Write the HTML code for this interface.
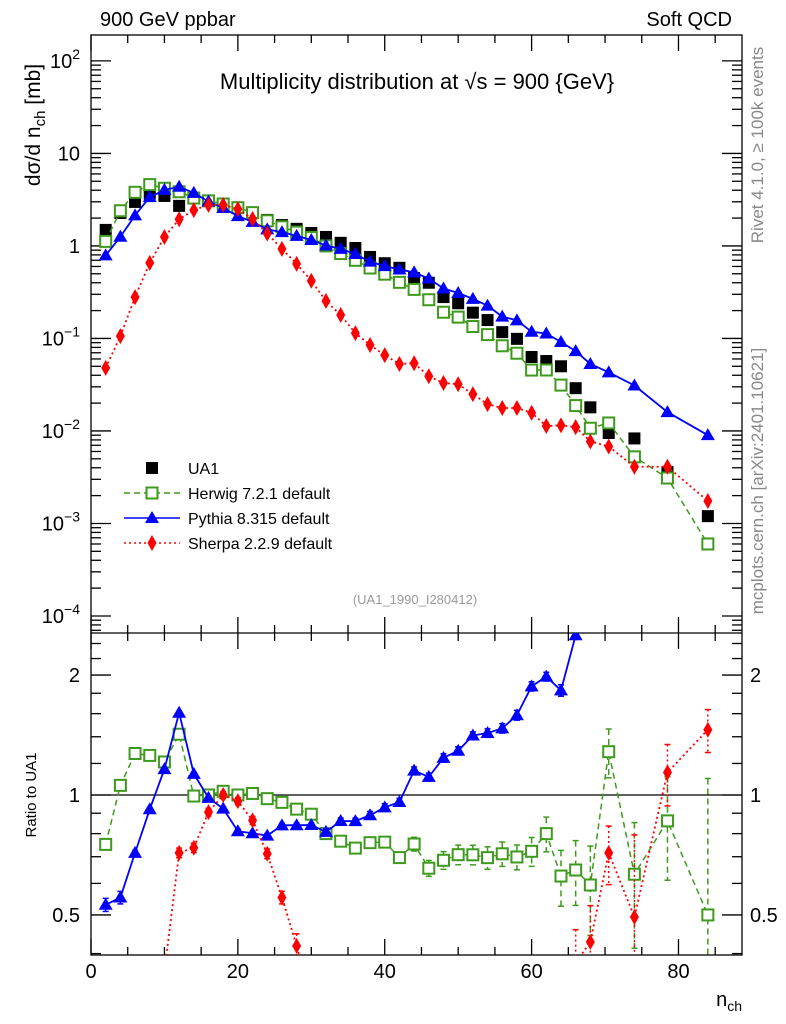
<!DOCTYPE html>
<html><head><meta charset="utf-8"><style>
html,body{margin:0;padding:0;background:#fff;overflow:hidden}
svg{display:block}
svg text{font-family:"Liberation Sans",sans-serif}
</style></head><body>
<svg id="c" width="786" height="1024" xmlns="http://www.w3.org/2000/svg"></svg>
<script>
const nch=[2,4,6,8,10,12,14,16,18,20,22,24,26,28,30,32,34,36,38,40,42,44,46,48,50,52,54,56,58,60,62,64,66,68,70.5,74,78.5,84];
const ua1=[1.49,2.27,2.99,3.66,3.47,2.71,3.31,3.07,2.78,2.59,2.27,1.91,1.68,1.53,1.38,1.25,1.08,0.95,0.76,0.65,0.58,0.45,0.40,0.28,0.24,0.19,0.158,0.117,0.099,0.063,0.057,0.050,0.029,0.018,0.0095,0.0083,0.0036,0.0012];
const herwig=[1.12,2.40,3.80,4.60,4.20,3.85,3.29,3.07,2.84,2.59,2.29,1.87,1.61,1.41,1.235,1.0,0.827,0.699,0.577,0.495,0.404,0.339,0.262,0.192,0.170,0.1345,0.110,0.0833,0.0692,0.0455,0.0456,0.0313,0.0188,0.0107,0.0122,0.00525,0.0031,0.0006];
const pythia=[0.79,1.255,2.14,3.37,4.03,4.36,3.74,3.02,2.57,2.10,1.82,1.51,1.41,1.285,1.16,1.01,0.929,0.817,0.676,0.605,0.557,0.518,0.444,0.347,0.310,0.268,0.226,0.172,0.157,0.118,0.113,0.0915,0.073,0.053,0.043,0.031,0.016,0.009];
const sherpa=[0.048,0.106,0.28,0.655,1.25,1.94,2.44,2.78,2.78,2.50,1.96,1.36,0.929,0.64,0.42,0.254,0.179,0.114,0.085,0.066,0.053,0.054,0.039,0.033,0.032,0.025,0.0195,0.0177,0.0177,0.0157,0.0113,0.0115,0.011,0.0077,0.0068,0.0041,0.0041,0.00175];
const herwigErr=[0.01,0.01,0.01,0.01,0.01,0.01,0.01,0.01,0.01,0.01,0.01,0.01,0.01,0.01,0.01,0.015,0.015,0.015,0.02,0.02,0.02,0.03,0.03,0.035,0.04,0.04,0.045,0.05,0.05,0.06,0.08,0.1,0.12,0.15,0.18,0.22,0.25,0.6];
const pythiaErr=[0.02,0.02,0.01,0.01,0.01,0.01,0.01,0.01,0.01,0.01,0.01,0.01,0.01,0.01,0.01,0.015,0.015,0.015,0.02,0.02,0.02,0.025,0.025,0.03,0.03,0.03,0.035,0.04,0.045,0.05,0.05,0.06,0.06,0.07,0.08,0.1,0.12,0.15];
const sherpaErr=[0.05,0.05,0.03,0.02,0.02,0.02,0.02,0.02,0.02,0.02,0.02,0.02,0.02,0.03,0.03,0.03,0.03,0.03,0.03,0.03,0.03,0.04,0.04,0.04,0.04,0.05,0.05,0.05,0.05,0.06,0.07,0.07,0.08,0.1,0.12,0.3,0.2,0.18];
const mainTicks=[2,1,0,-1,-2,-3,-4];
const ratioTicks=[0.5,1,2];
const xTicks=[0,20,40,60,80];

const NS="http://www.w3.org/2000/svg";
const svg=document.getElementById('c');
const L=91,R=742,T=35,MB=633,RB=955;
const XMAX=88.65;
const X=v=>L+(R-L)*v/XMAX;
const YTOP=2.28,YBOT=-4.184;
const Ym=v=>T+(MB-T)*(YTOP-Math.log10(v))/(YTOP-YBOT);
const RTOP=Math.log2(2.55),RBOT=Math.log2(0.3967);
const Yr=v=>{const c=Math.min(3,Math.max(0.3,v));return MB+(RB-MB)*(RTOP-Math.log2(c))/(RTOP-RBOT);};
function el(tag,at,parent){const e=document.createElementNS(NS,tag);for(const k in at)e.setAttribute(k,at[k]);(parent||svg).appendChild(e);return e;}
function txt(s,x,y,size,anchor,parent,fill){const t=el('text',{x:x,y:y,'font-size':size,'text-anchor':anchor||'start',fill:fill||'#000'},parent);t.textContent=s;return t;}

const defs=el('defs',{});
const cp1=el('clipPath',{id:'cm'},defs);el('rect',{x:L,y:T,width:R-L,height:MB-T},cp1);
const cp2=el('clipPath',{id:'cr'},defs);el('rect',{x:L,y:MB,width:R-L,height:RB-MB},cp2);

let t;
t=txt('900 GeV ppbar',100,26,20,'start');
t=txt('Soft QCD',732,26,20,'end');
t=txt('Multiplicity distribution at √s = 900 {GeV}',417,89,22,'middle');
t=txt('(UA1_1990_I280412)',415,604,13,'middle',null,'#999');
t=el('text',{x:0,y:0,'font-size':17,fill:'#888','text-anchor':'middle',transform:'translate(763,145) rotate(-90)'});t.textContent='Rivet 4.1.0, ≥ 100k events';

t=el('text',{x:0,y:0,'font-size':17,fill:'#888','text-anchor':'middle',transform:'translate(763,481) rotate(-90)'});t.textContent='mcplots.cern.ch [arXiv:2401.10621]';

t=el('text',{x:0,y:0,'font-size':21,'text-anchor':'middle',transform:'translate(40,125) rotate(-90)'});
t.innerHTML='dσ/d n<tspan font-size="15" dy="5">ch</tspan><tspan dy="-5"> [mb]</tspan>';

t=el('text',{x:0,y:0,'font-size':15,'text-anchor':'middle',transform:'translate(36,795) rotate(-90)'});t.textContent='Ratio to UA1';

t=el('text',{x:742,y:1006,'font-size':20,'text-anchor':'end'});t.innerHTML='n<tspan font-size="14" dy="5">ch</tspan>';


const ax=el('g',{stroke:'#000','stroke-width':1.3,fill:'none'});

el('rect',{x:L,y:T,width:R-L,height:RB-T},ax);
el('line',{x1:L,y1:MB,x2:R,y2:MB},ax);
for(let v=0;v<=XMAX;v+=5){const maj=v%20===0;const len=maj?16:8;const x=X(v);
 [T,MB].forEach(y0=>{el('line',{x1:x,y1:y0,x2:x,y2:y0+len},ax);});
 [MB,RB].forEach(y0=>{el('line',{x1:x,y1:y0,x2:x,y2:y0-len},ax);});}
xTicks.forEach(v=>{const tt=txt(String(v),X(v),978,20,'middle');});
for(let d=-5;d<=2;d++){for(let m=1;m<=9;m++){const v=m*Math.pow(10,d);const lv=Math.log10(v);if(lv>YTOP||lv<YBOT)continue;const y=Ym(v);const len=m===1?20:10;
 el('line',{x1:L,y1:y,x2:L+len,y2:y},ax);el('line',{x1:R,y1:y,x2:R-len,y2:y},ax);}}
mainTicks.forEach(d=>{const y=Ym(Math.pow(10,d))+7;let tt;
 if(d===1)tt=txt('10',80,y,20,'end');else if(d===0)tt=txt('1',80,y,20,'end');
 else{tt=el('text',{x:80,y:y,'font-size':20,'text-anchor':'end'});tt.innerHTML='10<tspan font-size="14" dy="-9">'+(d<0?'−'+(-d):d)+'</tspan>';}
 });
const rmin=[0.4,0.5,0.6,0.7,0.8,0.9,1,1.2,1.4,1.6,1.8,2,2.2,2.4];
rmin.forEach(v=>{const y=Yr(v);const maj=ratioTicks.includes(v);const len=maj?20:10;
 el('line',{x1:L,y1:y,x2:L+len,y2:y},ax);el('line',{x1:R,y1:y,x2:R-len,y2:y},ax);});
ratioTicks.forEach(v=>{const y=Yr(v)+7;let a=txt(String(v),80,y,20,'end');
 let b=txt(String(v),750,y,20,'start');});
el('line',{x1:L,y1:Yr(1),x2:R,y2:Yr(1),stroke:'#000','stroke-width':1.2});

function marker(kind,x,y,g,color){
 if(kind==='sq')return el('rect',{x:x-6,y:y-6,width:12,height:12,fill:'#000'},g);
 if(kind==='osq')return el('rect',{x:x-5.5,y:y-5.5,width:11,height:11,fill:'#fff',stroke:color,'stroke-width':2},g);
 if(kind==='tri')return el('polygon',{points:`${x},${y-7} ${x-7},${y+5} ${x+7},${y+5}`,fill:color},g);
 return el('polygon',{points:`${x},${y-8} ${x-4.5},${y} ${x},${y+8} ${x+4.5},${y}`,fill:color},g);}

const series=[
 {name:'herwig',vals:herwig,err:herwigErr,color:'#3d9a1c',dash:'6,4',kind:'osq',w:1.5},
 {name:'pythia',vals:pythia,err:pythiaErr,color:'#0000ff',dash:'',kind:'tri',w:1.8},
 {name:'sherpa',vals:sherpa,err:sherpaErr,color:'#ff0000',dash:'2,3',kind:'dia',w:1.8}];

const gm=el('g',{'clip-path':'url(#cm)'});
const gu=el('g',{},gm);
series.forEach(s=>{const g=el('g',{},gm);
 const pts=nch.map((n,i)=>X(n)+','+Ym(s.vals[i])).join(' ');
 el('polyline',{points:pts,fill:'none',stroke:s.color,'stroke-width':s.w,'stroke-dasharray':s.dash},g);
 s.gm=g;});
nch.forEach((n,i)=>{const m=marker('sq',X(n),Ym(ua1[i]),gu);});
series.forEach(s=>{nch.forEach((n,i)=>{const m=marker(s.kind,X(n),Ym(s.vals[i]),s.gm,s.color);});});

const gr=el('g',{'clip-path':'url(#cr)'});
series.forEach(s=>{const g=el('g',{},gr);
 const r=nch.map((n,i)=>s.vals[i]/ua1[i]);
 el('polyline',{points:nch.map((n,i)=>X(n)+','+Yr(r[i])).join(' '),fill:'none',stroke:s.color,'stroke-width':s.w,'stroke-dasharray':s.dash},g);
 nch.forEach((n,i)=>{const x=X(n);const e=s.err[i];
  if(r[i]<0.3||r[i]>3)return;
  el('line',{x1:x,y1:Yr(r[i]+e),x2:x,y2:Yr(Math.max(r[i]-e,0.01)),stroke:s.color,'stroke-width':1.5,'stroke-dasharray':s.dash},g);
  el('line',{x1:x-3,y1:Yr(r[i]+e),x2:x+3,y2:Yr(r[i]+e),stroke:s.color,'stroke-width':1.5},g);
  el('line',{x1:x-3,y1:Yr(Math.max(r[i]-e,0.01)),x2:x+3,y2:Yr(Math.max(r[i]-e,0.01)),stroke:s.color,'stroke-width':1.5},g);
  const m=marker(s.kind,x,Yr(r[i]),g,s.color);});});

const lg=el('g',{});
const labels=[['UA1','sq','#000',''],['Herwig 7.2.1 default','osq','#3d9a1c','6,4'],['Pythia 8.315 default','tri','#0000ff',''],['Sherpa 2.2.9 default','dia','#ff0000','2,3']];
labels.forEach((l,i)=>{const y=468+i*25;const g=el('g',{},lg);
 if(i>0)el('line',{x1:124,y1:y,x2:180,y2:y,stroke:l[2],'stroke-width':1.6,'stroke-dasharray':l[3]},g);
 marker(l[1],152,y,g,l[2]);txt(l[0],188,y+6,16,'start',g);});
</script>
</body></html>
